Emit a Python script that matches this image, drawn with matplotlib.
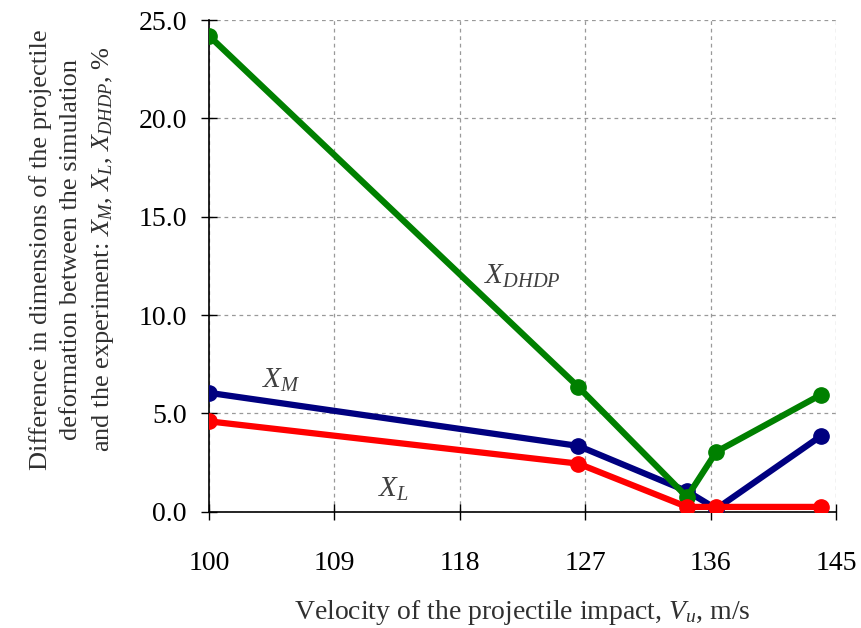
import matplotlib.pyplot as plt
import numpy as np

# datos
velocity = [100, 126.5, 134.3, 136.4, 143.9]
x_m = [6.05, 3.35, 1.05, 0.15, 3.85]
x_l = [4.6, 2.45, 0.25, 0.25, 0.25]
x_dhdp = [24.2, 6.35, 0.75, 3.05, 5.95]

x_ticks = [100, 109, 118, 127, 136, 145]
y_ticks = [0, 5, 10, 15, 20, 25]

plt.rcParams["font.family"] = "Liberation Serif"
plt.rcParams["mathtext.fontset"] = "custom"
plt.rcParams["mathtext.rm"] = "Liberation Serif"
plt.rcParams["mathtext.it"] = "Liberation Serif:italic"

fig = plt.figure(figsize=(8.62, 6.28), dpi=100)
ax = fig.add_axes([0.2425, 0.185, 0.7275, 0.783])

ax.plot(velocity, x_m, color="#000080", linewidth=4.5, marker="o", markersize=11, zorder=3)
ax.plot(velocity, x_dhdp, color="#008000", linewidth=4.5, marker="o", markersize=11, zorder=3)
ax.plot(velocity, x_l, color="#FF0000", linewidth=4.5, marker="o", markersize=11, zorder=3)

ax.set_xlim(100, 145)
ax.set_ylim(0, 25)
ax.set_xticks(x_ticks)
ax.set_yticks(y_ticks)
ax.set_yticklabels([f"{v:.1f}" for v in y_ticks])

ax.grid(color="#999999", linestyle=(0, (3, 3)), linewidth=0.9)
ax.spines["top"].set_visible(False)
ax.spines["right"].set_visible(False)
ax.spines["left"].set_linewidth(1.2)
ax.spines["bottom"].set_linewidth(1.2)
ax.tick_params(axis="x", direction="inout", length=12, width=1, pad=22, labelsize=20)
ax.tick_params(axis="y", direction="inout", length=12, width=1, pad=10, labelsize=20)

# etiquetas de las curvas
ax.text(119.7, 11.6, r"$X_{DHDP}$", fontsize=21, color="#404040")
ax.text(103.8, 6.3, r"$X_M$", fontsize=21, color="#404040")
ax.text(112.1, 0.75, r"$X_L$", fontsize=21, color="#404040")

ax.set_xlabel(r"Velocity of the projectile impact, $V_u$, m/s", fontsize=20, labelpad=16,
              color="#303030")
ax.set_ylabel("Difference in dimensions of the projectile\n"
              "deformation between the simulation\n"
              r"and the experiment: $X_M$, $X_L$, $X_{DHDP}$, %",
              fontsize=19, color="#303030", linespacing=1.45)
ax.yaxis.set_label_coords(-0.148, 0.534)

fig.savefig("out.png", dpi=100)
